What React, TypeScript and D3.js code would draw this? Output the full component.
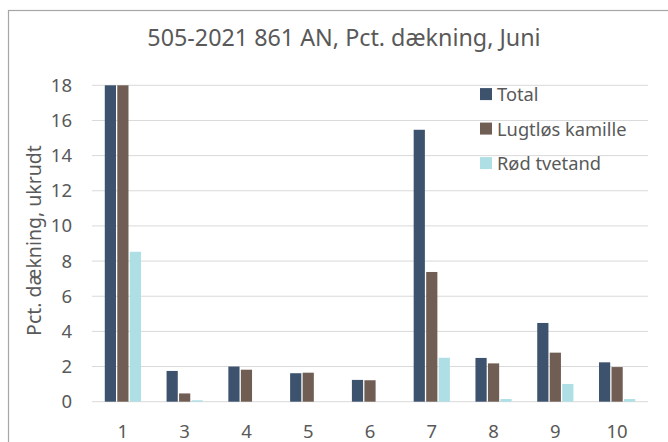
import React from "react";
import * as d3 from "d3";

const categories = ["1", "3", "4", "5", "6", "7", "8", "9", "10"];
const seriesNames = ["Total", "Lugtløs kamille", "Rød tvetand"];
const totalValues = [18, 1.75, 2.0, 1.62, 1.24, 15.47, 2.49, 4.48, 2.24];
const kamilleValues = [18, 0.47, 1.82, 1.65, 1.22, 7.38, 2.18, 2.79, 1.97];
const tvetandValues = [8.53, 0.08, 0, 0, 0, 2.5, 0.15, 1.01, 0.15];
const yTicks = [0, 2, 4, 6, 8, 10, 12, 14, 16, 18];
const colors = ["#3C526D", "#705D53", "#AEDFE5"];

const W = 668;
const H = 442;
const plot = { left: 92, right: 648, top: 85.3, bottom: 401.7 };
const font = "'Noto Sans', 'Open Sans', sans-serif";
const textColor = "#595959";

export default function App() {
  const series = [totalValues, kamilleValues, tvetandValues];
  const x = d3.scaleBand<string>().domain(categories).range([plot.left, plot.right]);
  const y = d3.scaleLinear().domain([0, 18]).range([plot.bottom, plot.top]);
  const slot = 12.5;
  const barW = 11.2;

  return (
    <svg width={W} height={H} style={{ position: "absolute", left: 0, top: 0 }}>
      <rect x={0} y={0} width={W} height={H} fill="#fff" />
      <rect x={8.5} y={10.5} width={W + 20} height={H + 20} fill="#fff" stroke="#A6A6A6" strokeWidth={1.2} />
      <text x={344} y={46} textAnchor="middle" fontFamily={font} fontSize={23.3} fill={textColor}>
        505-2021 861 AN, Pct. dækning, Juni
      </text>
      {yTicks.map((t) => (
        <g key={t}>
          <line x1={plot.left} x2={plot.right} y1={y(t)} y2={y(t)} stroke="#D9D9D9" strokeWidth={1} />
          <text x={72} y={y(t) + 6.5} textAnchor="end" fontFamily={font} fontSize={18.5} fill={textColor}>
            {t}
          </text>
        </g>
      ))}
      <text
        transform={`translate(41, ${(plot.top + plot.bottom) / 2 - 3}) rotate(-90)`}
        textAnchor="middle"
        fontFamily={font}
        fontSize={19.5}
        fill={textColor}
      >
        Pct. dækning, ukrudt
      </text>
      {categories.map((c, i) => {
        const cx = (x(c) as number) + x.bandwidth() / 2;
        return (
          <g key={c}>
            {series.map((vals, s) => {
              const v = vals[i];
              if (v <= 0) return null;
              const bx = cx + (s - 1) * slot - barW / 2;
              return (
                <rect key={s} x={bx} y={y(v)} width={barW} height={y(0) - y(v)} fill={colors[s]} />
              );
            })}
            <text x={cx} y={438} textAnchor="middle" fontFamily={font} fontSize={18.5} fill={textColor}>
              {c}
            </text>
          </g>
        );
      })}
      {seriesNames.map((n, i) => (
        <g key={n} transform={`translate(480, ${y(17.5) + i * 34.5})`}>
          <rect x={0} y={-6} width={12} height={12} fill={colors[i]} />
          <text x={17} y={7} fontFamily={font} fontSize={18.3} fill={textColor}>
            {n}
          </text>
        </g>
      ))}
    </svg>
  );
}
